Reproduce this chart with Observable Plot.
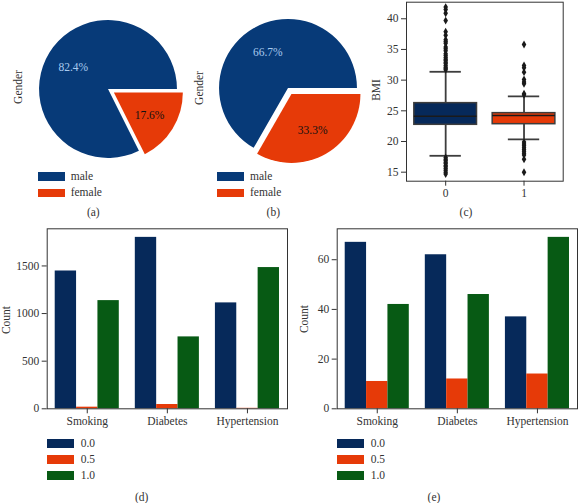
<!DOCTYPE html>
<html><head><meta charset="utf-8">
<script src="https://cdn.jsdelivr.net/npm/d3@7"></script>
<script src="https://cdn.jsdelivr.net/npm/@observablehq/plot@0.6"></script>
<style>
body{margin:0;background:#fff;}
#root{position:relative;width:578px;height:503px;overflow:hidden;font-family:"Liberation Serif","DejaVu Serif",serif;color:#333;}
.lab{position:absolute;font-size:11.5px;white-space:nowrap;line-height:1;transform:translate(0,-50%);}
.ctr{position:absolute;font-size:11.5px;white-space:nowrap;line-height:1;transform:translate(-50%,-50%);}
.rot{position:absolute;font-size:11.5px;white-space:nowrap;line-height:1;transform:translate(-50%,-50%) rotate(-90deg);}
.sw{position:absolute;}
.pl{position:absolute;}
</style></head><body><div id="root"></div>
<script>
// ---------- data ----------
const genders = ["male", "female"];
const genderShareA = [82.4, 17.6];
const genderShareB = [66.7, 33.3];

const bmiGroups = [0, 1];
const bmiTicks = [15, 20, 25, 30, 35, 40];
const bmiQ1 = [22.72, 22.82];
const bmiMedian = [24.13, 24.24];
const bmiQ3 = [26.25, 24.62];
const bmiWhiskerLow = [17.67, 20.33];
const bmiWhiskerHigh = [31.36, 27.34];
const bmiOutliers0 = [41.9, 41.5, 40.9, 39.7, 37.9, 37.3, 36.6, 36.3, 36.0, 35.4, 35.1, 34.8, 34.3, 34.0, 33.7, 33.4, 33.2, 32.9, 32.7, 32.4, 32.1, 31.9, 31.7,
                      17.4, 17.1, 16.9, 16.6, 16.4, 16.1, 15.9, 15.6, 15.3, 15.0, 14.7];
const bmiOutliers1 = [35.8, 32.4, 32.0, 31.3, 30.1, 29.7, 29.4, 27.8, 27.6,
                      19.9, 19.6, 19.3, 19.0, 18.7, 18.4, 18.1, 17.8, 17.1, 15.0];

const conditions = ["Smoking", "Diabetes", "Hypertension"];
const levels = ["0.0", "0.5", "1.0"];
const countsD_00 = [1447, 1800, 1112];
const countsD_05 = [17, 45, 5];
const countsD_10 = [1136, 755, 1483];
const countTicksD = [0, 500, 1000, 1500];
const countsE_00 = [67, 62, 37];
const countsE_05 = [11, 12, 14];
const countsE_10 = [42, 46, 69];
const countTicksE = [0, 20, 40, 60];

// ---------- styles ----------
const NAVY_PIE = "#073a78", NAVY = "#06295a", ORANGE = "#e63a08", GREEN = "#075a14";
const MALE_LABEL = "#a9cbef";
const root = document.getElementById("root");
const baseStyle = {fontFamily: "'Liberation Serif', 'DejaVu Serif', serif", fontSize: "11.5px", color: "#333", background: "transparent", overflow: "visible"};

function put(node, left, top) {
  node.classList.add("pl");
  node.style.left = left + "px"; node.style.top = top + "px";
  root.appendChild(node);
}
function text(cls, str, left, top) {
  const d = document.createElement("div");
  d.className = cls; d.textContent = str;
  d.style.left = left + "px"; d.style.top = top + "px";
  root.appendChild(d);
}
function swatch(color, left, top, w, h) {
  const d = document.createElement("div");
  d.className = "sw"; d.style.background = color;
  d.style.left = left + "px"; d.style.top = top + "px";
  d.style.width = w + "px"; d.style.height = h + "px";
  root.appendChild(d);
}

// ---------- pies ----------
const EXPLODE = 0.1, PCTDIST = 0.6;
function pieChart(shares) {
  const arcs = d3.pie().sort(null).startAngle(Math.PI / 2).endAngle(Math.PI / 2 - 2 * Math.PI)(shares);
  const rows = arcs.map((a, i) => {
    const mid = (a.startAngle + a.endAngle) / 2;
    const off = i === 1 ? EXPLODE : 0;
    return {arc: a, i, ox: Math.sin(mid) * off, oy: Math.cos(mid) * off,
            lx: Math.sin(mid) * (off + PCTDIST), ly: Math.cos(mid) * (off + PCTDIST),
            label: shares[i].toFixed(1) + "%"};
  });
  const colors = [NAVY_PIE, ORANGE], labColors = [MALE_LABEL, "#111"];
  const wedges = (index, scales) => {
    const {x, y} = scales;
    const R = x(1) - x(0);
    const g = d3.create("svg:g");
    for (const r of rows) {
      g.append("path")
        .attr("d", d3.arc().innerRadius(0).outerRadius(R)(r.arc))
        .attr("transform", `translate(${x(r.ox)},${y(r.oy)})`)
        .attr("fill", colors[r.i]);
    }
    return g.node();
  };
  return Plot.plot({
    width: 160, height: 160, margin: 0, style: baseStyle,
    x: {domain: [-1.16, 1.16], axis: null},
    y: {domain: [-1.16, 1.16], axis: null},
    marks: [
      wedges,
      Plot.text(rows, {x: "lx", y: "ly", text: "label", fill: (d) => labColors[d.i], fontSize: 11.5})
    ]
  });
}
put(pieChart(genderShareA), 27.5, 8.5);
put(pieChart(genderShareB), 208.3, 8.3);
text("rot", "Gender", 19, 87);
text("rot", "Gender", 200, 88);
[[38.3, 70.7], [217.3, 250]].forEach(([sx, tx]) => {
  swatch(NAVY_PIE, sx, 172.3, 26.7, 8.6);
  swatch(ORANGE, sx, 188.5, 26.7, 8.8);
  text("lab", genders[0], tx, 176.5);
  text("lab", genders[1], tx, 193);
});
text("ctr", "(a)", 93.3, 213.3);
text("ctr", "(b)", 273.3, 213.3);

// ---------- box plot ----------
const boxes = bmiGroups.map((g, i) => ({g, q1: bmiQ1[i], med: bmiMedian[i], q3: bmiQ3[i], lo: bmiWhiskerLow[i], hi: bmiWhiskerHigh[i], fill: i ? ORANGE : NAVY}));
const outliers = [...bmiOutliers0.map(v => ({g: 0, v})), ...bmiOutliers1.map(v => ({g: 1, v}))];
const GRAY = "#3d3d3d";
const boxPlot = Plot.plot({
  width: 208, height: 200, marginLeft: 36, marginRight: 15.3, marginTop: 1.7, marginBottom: 19.3,
  style: baseStyle,
  x: {domain: [-0.5, 1.5]},
  y: {domain: [13.53, 42.7]},
  marks: [
    Plot.ruleX(boxes, {x: "g", y1: "lo", y2: "hi", stroke: GRAY, strokeWidth: 1.8}),
    Plot.rect(boxes, {x1: d => d.g - 0.4, x2: d => d.g + 0.4, y1: "q1", y2: "q3", fill: "fill", stroke: GRAY, strokeWidth: 1.5}),
    Plot.ruleY(boxes, {y: "med", x1: d => d.g - 0.4, x2: d => d.g + 0.4, stroke: "#1a1a1a", strokeWidth: 1.5}),
    Plot.ruleY(boxes, {y: "hi", x1: d => d.g - 0.2, x2: d => d.g + 0.2, stroke: GRAY, strokeWidth: 1.8}),
    Plot.ruleY(boxes, {y: "lo", x1: d => d.g - 0.2, x2: d => d.g + 0.2, stroke: GRAY, strokeWidth: 1.8}),
    Plot.dot(outliers, {x: "g", y: "v", symbol: "diamond", r: 2.4, fill: "#1a1a1a", stroke: "none"}),
    Plot.frame({stroke: "#333", strokeWidth: 1}),
    Plot.axisY({ticks: bmiTicks, tickFormat: d => String(d), tickSize: 5, tickPadding: 3, label: null, stroke: "#333"}),
    Plot.axisX({ticks: bmiGroups, tickFormat: d => String(d), tickSize: 5, tickPadding: 3, label: null, stroke: "#333"})
  ]
});
put(boxPlot, 370, 0);
text("rot", "BMI", 377, 90);
text("ctr", "(c)", 466, 213.3);

// ---------- grouped bars ----------
function barChart(c00, c05, c10, ticks, yMax, width, marginRight) {
  const series = [c00, c05, c10];
  const colors = [NAVY, ORANGE, GREEN];
  const W = 0.8 / 3;
  const rows = [];
  conditions.forEach((c, i) => series.forEach((s, j) => rows.push({i, j, v: s[i], fill: colors[j]})));
  return Plot.plot({
    width, height: 210, marginLeft: 46.7, marginRight, marginTop: 8.3, marginBottom: 21.7,
    style: baseStyle,
    x: {domain: [-0.5, 2.5]},
    y: {domain: [0, yMax]},
    marks: [
      Plot.rectY(rows, {x1: d => d.i - 0.4 + d.j * W, x2: d => d.i - 0.4 + (d.j + 1) * W, y1: 0, y2: "v", fill: "fill"}),
      Plot.frame({stroke: "#333", strokeWidth: 1}),
      Plot.axisY({ticks, tickFormat: d => String(d), tickSize: 5, tickPadding: 3, label: null, stroke: "#333"}),
      Plot.axisX({ticks: [0, 1, 2], tickFormat: i => conditions[i], tickSize: 5, tickPadding: 3, label: null, stroke: "#333"})
    ]
  });
}
const maxD = d3.max([...countsD_00, ...countsD_05, ...countsD_10]) * 1.05;
const maxE = d3.max([...countsE_00, ...countsE_05, ...countsE_10]) * 1.05;
put(barChart(countsD_00, countsD_05, countsD_10, countTicksD, maxD, 290, 3), 0, 220);
put(barChart(countsE_00, countsE_05, countsE_10, countTicksE, maxE, 288, 1), 290, 220);
text("rot", "Count", 7, 320);
text("rot", "Count", 305, 319);
[[46.7, 80.7], [336.7, 370.7]].forEach(([sx, tx]) => {
  [NAVY, ORANGE, GREEN].forEach((c, j) => {
    swatch(c, sx, 439 + j * 16.2, 27, 9);
    text("lab", levels[j], tx, 443.5 + j * 16.1);
  });
});
text("ctr", "(d)", 141.7, 497.7);
text("ctr", "(e)", 434, 497.7);
</script></body></html>
